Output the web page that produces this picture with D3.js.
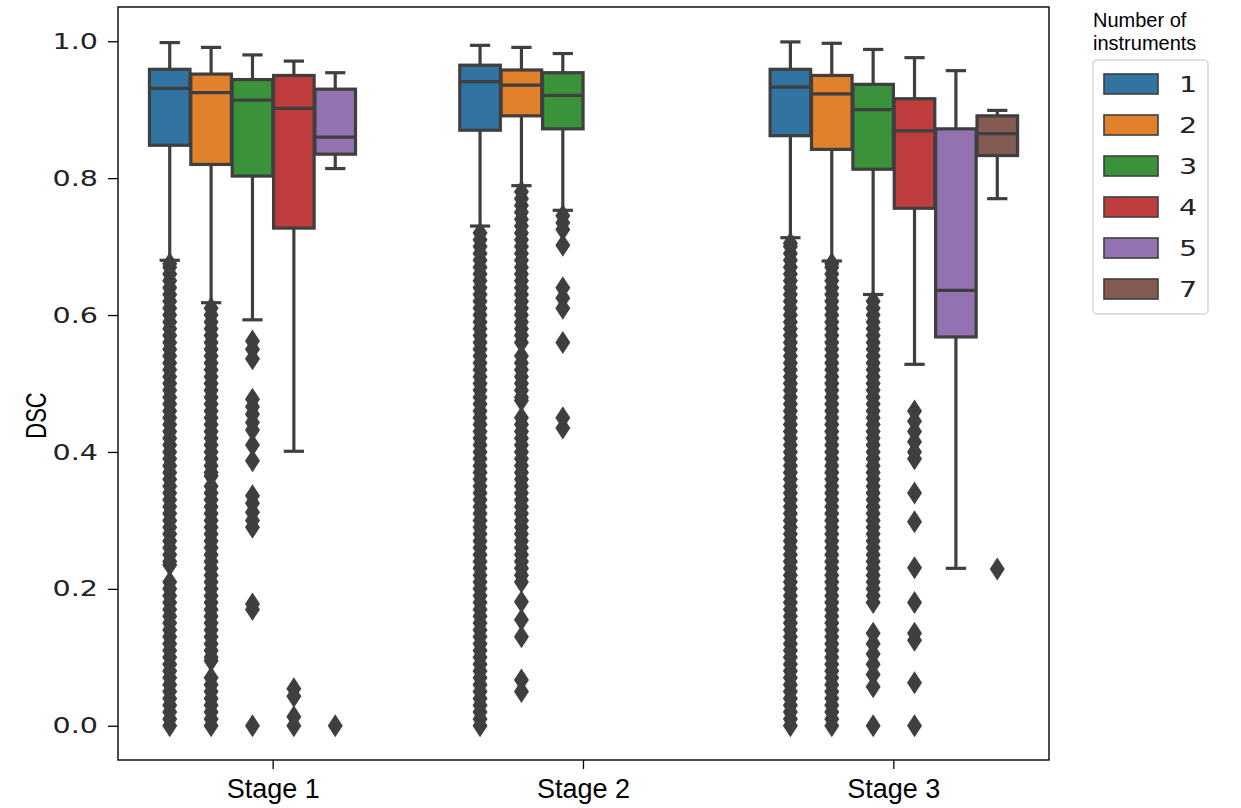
<!DOCTYPE html>
<html>
<head>
<meta charset="utf-8">
<script src="https://cdn.jsdelivr.net/npm/d3@7"></script>
<style>
body{margin:0;background:#fff;}
</style>
</head>
<body>
<div id="display"></div>
<script>
const stages=[`Stage 1`,`Stage 2`,`Stage 3`];
const hueLevels=[`1`,`2`,`3`,`4`,`5`,`7`];
const hueColors=[`#3274a1`,`#e1812c`,`#3a923a`,`#c03d3e`,`#9372b2`,`#845b53`];
const yTicks=[0,0.2,0.4,0.6,0.8,1.0];

//one entry per box
const boxStage=[`Stage 1`,`Stage 1`,`Stage 1`,`Stage 1`,`Stage 1`,`Stage 2`,`Stage 2`,`Stage 2`,`Stage 3`,`Stage 3`,`Stage 3`,`Stage 3`,`Stage 3`,`Stage 3`];
const boxHue=[`1`,`2`,`3`,`4`,`5`,`1`,`2`,`3`,`1`,`2`,`3`,`4`,`5`,`7`];
const whiskerHigh=[0.998,0.991,0.980,0.971,0.954,0.994,0.991,0.982,0.999,0.997,0.988,0.976,0.957,0.899];
const q3=[0.959,0.952,0.944,0.950,0.930,0.965,0.958,0.954,0.959,0.950,0.937,0.916,0.872,0.891];
const median=[0.931,0.925,0.914,0.902,0.860,0.941,0.936,0.921,0.933,0.923,0.900,0.869,0.636,0.865];
const q1=[0.848,0.820,0.803,0.727,0.835,0.870,0.891,0.872,0.862,0.842,0.813,0.756,0.568,0.833];
const whiskerLow=[0.680,0.618,0.593,0.401,0.814,0.730,0.789,0.753,0.713,0.679,0.630,0.528,0.230,0.770];

//outliers, same order as the boxes
const fliers=[
    [0,.01,.02,.03,.04,.05,.06,.07,.08,.09,.10,.11,.12,.13,.14,.15,.16,.17,.18,.19,.20,.21,.235,.24,.25,.26,.27,.28,.29,.30,.31,.32,.33,.34,.35,.36,.37,.38,.39,.40,.41,.42,.43,.44,.45,.46,.47,.48,.49,.50,.51,.52,.53,.54,.55,.56,.57,.58,.59,.60,.61,.62,.63,.64,.65,.66,.67,.675],
    [0,.01,.02,.03,.04,.05,.06,.07,.095,.10,.11,.12,.13,.14,.15,.16,.17,.18,.19,.20,.21,.22,.23,.24,.25,.26,.27,.28,.29,.30,.31,.32,.33,.34,.35,.365,.37,.38,.39,.40,.41,.42,.43,.44,.45,.46,.47,.48,.49,.50,.51,.52,.53,.54,.55,.56,.57,.58,.59,.60,.61],
    [.562,.55,.536,.477,.466,.455,.443,.432,.41,.387,.336,.325,.312,.30,.29,.178,.170,0],
    [.054,.043,.013,0],
    [0],
    [0,.01,.02,.03,.04,.05,.06,.07,.08,.09,.10,.11,.12,.13,.14,.15,.16,.17,.18,.19,.20,.21,.22,.23,.24,.25,.26,.27,.28,.29,.30,.31,.32,.33,.34,.35,.36,.37,.38,.39,.40,.41,.42,.43,.44,.45,.46,.47,.48,.49,.50,.51,.52,.53,.54,.55,.56,.57,.58,.59,.60,.61,.62,.63,.64,.65,.66,.67,.68,.69,.70,.71,.72],
    [.05,.067,.13,.155,.181,.21,.22,.23,.24,.25,.26,.27,.28,.29,.30,.31,.32,.33,.34,.35,.36,.37,.38,.39,.40,.41,.42,.43,.44,.45,.475,.48,.49,.50,.51,.52,.53,.54,.56,.57,.58,.59,.60,.61,.62,.63,.64,.65,.66,.67,.68,.69,.70,.71,.72,.73,.74,.75,.76,.77,.78],
    [.745,.735,.725,.702,.64,.625,.61,.56,.45,.435],
    [0,.01,.02,.03,.04,.05,.06,.07,.08,.09,.10,.11,.12,.13,.14,.15,.16,.17,.18,.19,.20,.21,.22,.23,.24,.25,.26,.27,.28,.29,.30,.31,.32,.33,.34,.35,.36,.37,.38,.39,.40,.41,.42,.43,.44,.45,.46,.47,.48,.49,.50,.51,.52,.53,.54,.55,.56,.57,.58,.59,.60,.61,.62,.63,.64,.65,.66,.67,.68,.69,.70,.705],
    [0,.01,.02,.03,.04,.05,.06,.07,.08,.09,.10,.11,.12,.13,.14,.15,.16,.17,.18,.19,.20,.21,.22,.23,.24,.25,.26,.27,.28,.29,.30,.31,.32,.33,.34,.35,.36,.37,.38,.39,.40,.41,.42,.43,.44,.45,.46,.47,.48,.49,.50,.51,.52,.53,.54,.55,.56,.57,.58,.59,.60,.61,.62,.63,.64,.65,.66,.67,.675],
    [0,.057,.075,.09,.105,.12,.135,.18,.19,.20,.21,.22,.23,.24,.25,.26,.27,.28,.29,.30,.31,.32,.33,.34,.35,.36,.37,.38,.39,.40,.41,.42,.43,.44,.45,.46,.47,.48,.49,.50,.51,.52,.53,.54,.55,.56,.57,.58,.59,.60,.61,.62],
    [.46,.445,.43,.415,.40,.39,.34,.298,.231,.18,.135,.125,.063,0],
    [],
    [.229]
];

const Setting={
    width:1241,
    height:808,
    margin:{top:7,right:192,bottom:48,left:118},
    line:`#3f3f3f`,
    lineWidth:3.2,
    //the matplotlib part of the picture is stretched sideways
    stretch:1.3
};

let Boxplot={
    //generate empty SVG element
    generateGraph(format,container){
        let svg=d3.select(container).append(`svg`)
        .attr(`width`, format.width)
        .attr(`height`, format.height)
        .style(`font-family`,`"DejaVu Sans", sans-serif`);

        let graph=svg.append(`g`)
            .attr(`transform`, `translate(${format.margin.left},${format.margin.top})`);
        graph.svg=svg;
        return graph;
    },
    //append Y axis, return the scale
    generateYAxis(graph,height){
        let y=d3.scaleLinear().domain([-0.05,1.05]).range([height,0]);

        let axis=graph.append(`g`)
            .attr(`class`, `y axis`)
            .call(d3.axisLeft(y).tickValues(yTicks).tickFormat(d3.format(`.1f`)).tickSize(10));
        axis.select(`.domain`).remove();
        axis.selectAll(`line`).attr(`stroke`,`#000`).attr(`stroke-width`,1.3);
        axis.selectAll(`text`)
            .attr(`x`,0)
            .attr(`transform`,`translate(-20,0) scale(${Setting.stretch},1)`)
            .attr(`font-size`,`22px`)
            .attr(`fill`,`#222`)
            .attr(`font-family`,`"DejaVu Sans"`);

        graph.append(`text`)
            .attr(`transform`,`translate(-72,${y(0.5)+32}) scale(${Setting.stretch},1) rotate(-90)`)
            .attr(`text-anchor`,`middle`)
            .attr(`font-family`,`"Liberation Sans", Arial, sans-serif`)
            .attr(`font-size`,`22px`)
            .attr(`fill`,`#000`)
            .text(`DSC`);
        return y;
    },
    //append X axis, return the scale
    generateXAxis(graph,width,height){
        let x=d3.scaleBand().domain(stages).range([0,width]).paddingInner(0).paddingOuter(0);

        let axis=graph.append(`g`)
            .attr(`class`, `x axis`)
            .attr(`transform`, `translate(0,${height})`)
            .call(d3.axisBottom(x).tickSize(9).tickPadding(10));
        axis.select(`.domain`).remove();
        axis.selectAll(`line`).attr(`stroke`,`#000`).attr(`stroke-width`,1.3);
        axis.selectAll(`text`)
            .attr(`font-size`,`27px`)
            .attr(`fill`,`#000`)
            .attr(`font-family`,`"Liberation Sans", Arial, sans-serif`);
        return x;
    },
    //append boxes, whiskers, caps and medians
    generateBoxes(graph,x,y){
        let hue=d3.scaleBand().domain(hueLevels).range([-0.4*x.bandwidth(),0.4*x.bandwidth()]);
        let boxWidth=hue.bandwidth()*0.98;
        let color=d3.scaleOrdinal().domain(hueLevels).range(hueColors);
        let center=(i)=>x(boxStage[i])+x.bandwidth()/2+hue(boxHue[i])+hue.bandwidth()/2;

        for(let i=0;i<boxStage.length;i++)
        {
            let cx=center(i);
            let g=graph.append(`g`).attr(`class`,`box ${boxHue[i]}`);
            g.append(`line`)
                .attr(`x1`,cx).attr(`x2`,cx)
                .attr(`y1`,y(q3[i])).attr(`y2`,y(whiskerHigh[i]));
            g.append(`line`)
                .attr(`x1`,cx).attr(`x2`,cx)
                .attr(`y1`,y(q1[i])).attr(`y2`,y(whiskerLow[i]));
            g.append(`line`)
                .attr(`x1`,cx-boxWidth/4).attr(`x2`,cx+boxWidth/4)
                .attr(`y1`,y(whiskerHigh[i])).attr(`y2`,y(whiskerHigh[i]));
            g.append(`line`)
                .attr(`x1`,cx-boxWidth/4).attr(`x2`,cx+boxWidth/4)
                .attr(`y1`,y(whiskerLow[i])).attr(`y2`,y(whiskerLow[i]));
            g.append(`rect`)
                .attr(`x`,cx-boxWidth/2)
                .attr(`width`,boxWidth)
                .attr(`y`,y(q3[i]))
                .attr(`height`,y(q1[i])-y(q3[i]))
                .attr(`fill`,color(boxHue[i]));
            g.append(`line`)
                .attr(`x1`,cx-boxWidth/2).attr(`x2`,cx+boxWidth/2)
                .attr(`y1`,y(median[i])).attr(`y2`,y(median[i]));
            g.selectAll(`line,rect`)
                .attr(`stroke`,Setting.line)
                .attr(`stroke-width`,Setting.lineWidth);

            //thin diamond outliers
            g.append(`g`)
                .attr(`class`,`fliers`)
                .selectAll(`path`)
                .data(fliers[i])
                .enter()
                .append(`path`)
                .attr(`d`,`M0,-11.5L7.5,0L0,11.5L-7.5,0Z`)
                .attr(`transform`,(d)=>{return `translate(${cx},${y(d)})`;})
                .attr(`fill`,Setting.line);
        }
    },
    //frame around the plot area
    generateFrame(graph,width,height){
        graph.append(`rect`)
            .attr(`width`,width)
            .attr(`height`,height)
            .attr(`fill`,`none`)
            .attr(`stroke`,`#000`)
            .attr(`stroke-width`,1.4);
    },
    //legend on the right side
    generateLegend(svg){
        let color=d3.scaleOrdinal().domain(hueLevels).range(hueColors);
        let legend=svg.append(`g`).attr(`class`,`legend`);

        legend.append(`text`)
            .attr(`x`,1093).attr(`y`,27)
            .attr(`font-family`,`"Liberation Sans", Arial, sans-serif`)
            .attr(`font-size`,`20px`)
            .text(`Number of`);
        legend.append(`text`)
            .attr(`x`,1093).attr(`y`,50)
            .attr(`font-family`,`"Liberation Sans", Arial, sans-serif`)
            .attr(`font-size`,`20px`)
            .text(`instruments`);

        legend.append(`rect`)
            .attr(`x`,1093).attr(`y`,60)
            .attr(`width`,115).attr(`height`,254)
            .attr(`rx`,4)
            .attr(`fill`,`#fff`)
            .attr(`stroke`,`#d6d6d6`)
            .attr(`stroke-width`,1.5);

        let item=legend.selectAll(`.item`)
            .data(hueLevels)
            .enter()
            .append(`g`)
            .attr(`class`,`item`)
            .attr(`transform`,(d,i)=>{return `translate(1104,${84+i*41})`;});
        item.append(`rect`)
            .attr(`x`,0).attr(`y`,-10)
            .attr(`width`,54).attr(`height`,20)
            .attr(`fill`,(d)=>{return color(d);})
            .attr(`stroke`,Setting.line)
            .attr(`stroke-width`,1.6);
        item.append(`text`)
            .attr(`transform`,`translate(75,8) scale(${Setting.stretch},1)`)
            .attr(`font-size`,`22px`)
            .attr(`fill`,`#222`)
            .text((d)=>{return d;});
    }
};

let width=Setting.width-Setting.margin.left-Setting.margin.right;
let height=Setting.height-Setting.margin.top-Setting.margin.bottom;
let graph=Boxplot.generateGraph(Setting,`#display`);
let y=Boxplot.generateYAxis(graph,height);
let x=Boxplot.generateXAxis(graph,width,height);
Boxplot.generateBoxes(graph,x,y);
Boxplot.generateFrame(graph,width,height);
Boxplot.generateLegend(graph.svg);
</script>
</body>
</html>
